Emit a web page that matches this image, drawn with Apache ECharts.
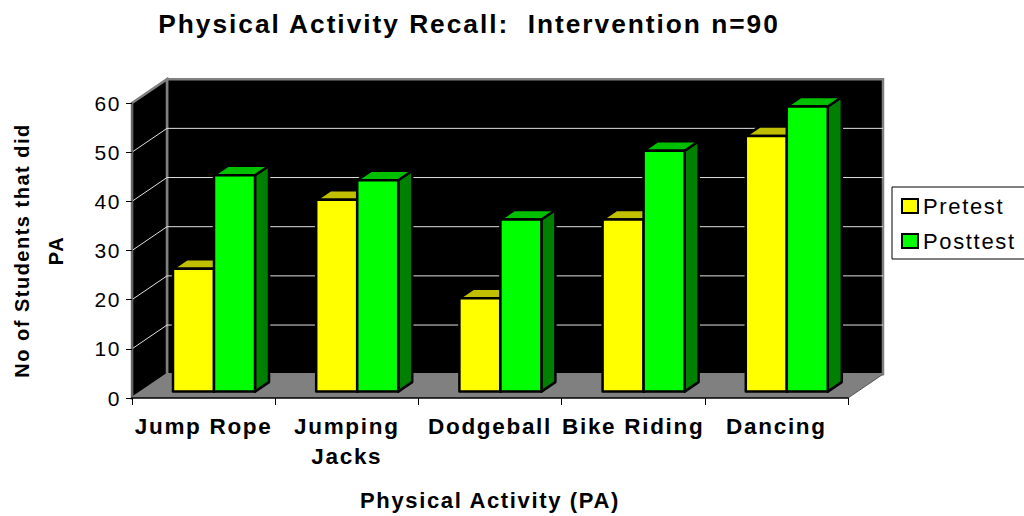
<!DOCTYPE html>
<html>
<head>
<meta charset="utf-8">
<title>Physical Activity Recall</title>
<script src="https://cdn.jsdelivr.net/npm/echarts@6/dist/echarts.min.js"></script>
<style>
  html, body { margin: 0; padding: 0; background: #fff; overflow: hidden; }
  #main { width: 1024px; height: 516px; }
  /* spread the letters like the original */
  #main svg text { letter-spacing: 0.075em; }
</style>
</head>
<body>
<div id="main"></div>
<script>
const categories = ['Jump Rope', 'Jumping\nJacks', 'Dodgeball', 'Bike Riding', 'Dancing']
const pretest = [25, 39, 19, 35, 52]
const posttest = [44, 43, 35, 49, 58]
const yTicks = [0, 10, 20, 30, 40, 50, 60]

const fontName = '"Liberation Sans", Arial, sans-serif'

// depth of the whole box, and of one bar
const wallDx = 35
const wallDy = -23.8
const barDx = 14
const barDy = -9.5
// bars stand a bit behind the front edge of the floor
const floorDx = 10.4
const floorDy = -6.4
const barWidth = 41

let myChart = echarts.init(document.getElementById('main'), null, { renderer: 'svg' })

// 墙和地板
function renderWalls (params, api) {
  const g = params.coordSys
  const x0 = g.x
  const x1 = g.x + g.width
  const top = g.y
  const bottom = g.y + g.height
  return {
    type: 'group',
    children: [
      {
        type: 'polygon',
        shape: { points: [[x0 + wallDx, top + wallDy], [x1 + wallDx, top + wallDy], [x1 + wallDx, bottom + wallDy], [x0 + wallDx, bottom + wallDy]] },
        style: { fill: '#000', stroke: '#808080', lineWidth: 2.5 }
      },
      {
        type: 'polygon',
        shape: { points: [[x0, top], [x0 + wallDx, top + wallDy], [x0 + wallDx, bottom + wallDy], [x0, bottom]] },
        style: { fill: '#000', stroke: '#808080', lineWidth: 2.5 }
      },
      {
        type: 'polygon',
        shape: { points: [[x0, bottom], [x1, bottom], [x1 + wallDx, bottom + wallDy], [x0 + wallDx, bottom + wallDy]] },
        style: { fill: '#808080' }
      },
      {
        type: 'line',
        shape: { x1: x1, y1: bottom, x2: x1 + wallDx, y2: bottom + wallDy },
        style: { stroke: '#555', lineWidth: 1 }
      }
    ]
  }
}

// 网格线
function renderGrid (params, api) {
  const g = params.coordSys
  const y = api.coord([api.value(0), api.value(1)])[1]
  return {
    type: 'polyline',
    shape: { points: [[g.x, y], [g.x + wallDx, y + wallDy], [g.x + g.width + wallDx, y + wallDy]] },
    style: { fill: 'none', stroke: '#e0e0e0', lineWidth: 1 }
  }
}

function makeBar (side, front, topColor, sideColor) {
  return function (params, api) {
    const p = api.coord([api.value(0), api.value(1)])
    const base = api.coord([api.value(0), 0])
    // side = -1 left of the band centre, 0 right of it
    const x = p[0] + floorDx + side * barWidth
    const yTop = p[1] + floorDy
    const yBase = base[1] + floorDy
    const line = { stroke: '#000', lineWidth: 2.5, lineJoin: 'round' }
    return {
      type: 'group',
      children: [
        {
          type: 'polygon',
          shape: { points: [[x + barWidth, yTop], [x + barWidth + barDx, yTop + barDy], [x + barWidth + barDx, yBase + barDy], [x + barWidth, yBase]] },
          style: Object.assign({ fill: sideColor }, line)
        },
        {
          type: 'polygon',
          shape: { points: [[x, yTop], [x + barDx, yTop + barDy], [x + barWidth + barDx, yTop + barDy], [x + barWidth, yTop]] },
          style: Object.assign({ fill: topColor }, line)
        },
        {
          type: 'rect',
          shape: { x: x, y: yTop, width: barWidth, height: yBase - yTop },
          style: Object.assign({ fill: front }, line)
        }
      ]
    }
  }
}

let option = {
  animation: false,
  backgroundColor: '#fff',
  title: {
    text: 'Physical Activity Recall:  Intervention n=90',
    left: 464,
    top: 6,
    textAlign: 'center',
    textStyle: { fontFamily: fontName, fontSize: 26.3, fontWeight: 'bold', color: '#000' }
  },
  legend: {
    left: 892,
    top: 187,
    orient: 'vertical',
    backgroundColor: '#fff',
    borderColor: '#000',
    borderWidth: 1,
    padding: [8, 40, 7, 9],
    itemGap: 13,
    itemWidth: 16,
    itemHeight: 14,
    selectedMode: false,
    textStyle: { fontFamily: fontName, fontSize: 22, color: '#000' },
    data: [
      { name: 'Pretest', icon: 'rect', itemStyle: { color: '#ffff00', borderColor: '#000', borderWidth: 2 } },
      { name: 'Posttest', icon: 'rect', itemStyle: { color: '#00ff00', borderColor: '#000', borderWidth: 2 } }
    ]
  },
  grid: { left: 132, top: 103, width: 716, height: 295, outerBoundsMode: 'none' },
  xAxis: {
    type: 'category',
    data: categories,
    z: 10,
    name: 'Physical Activity (PA)',
    nameLocation: 'middle',
    nameGap: 91,
    nameTextStyle: { fontFamily: fontName, fontSize: 22, fontWeight: 'bold', color: '#000' },
    axisLine: { lineStyle: { color: '#000', width: 1.5 } },
    axisTick: { show: true, length: 7, lineStyle: { color: '#000' } },
    axisLabel: { show: true, interval: 0, margin: 13.5, lineHeight: 30, fontFamily: fontName, fontSize: 22.5, fontWeight: 'bold', color: '#000' }
  },
  yAxis: {
    type: 'value',
    min: 0,
    max: 60,
    interval: 10,
    z: 10,
    name: 'No of Students that did\nPA',
    nameLocation: 'middle',
    nameGap: 59,
    nameRotate: 90,
    nameTextStyle: { fontFamily: fontName, fontSize: 20, fontWeight: 'bold', color: '#000', lineHeight: 34 },
    splitLine: { show: false },
    axisLine: { show: true, lineStyle: { color: '#666', width: 2 } },
    axisTick: { show: true, length: 6, lineStyle: { color: '#000' } },
    axisLabel: { margin: 11, fontFamily: fontName, fontSize: 21, color: '#000' }
  },
  series: [
    {
      name: 'walls',
      type: 'custom',
      z: 1,
      silent: true,
      renderItem: renderWalls,
      encode: { x: 0, y: 1 },
      data: [[0, 0]]
    },
    {
      name: 'grid',
      type: 'custom',
      z: 2,
      silent: true,
      renderItem: renderGrid,
      encode: { x: 0, y: 1 },
      data: yTicks.slice(1, -1).map(v => [0, v])
    },
    {
      name: 'Pretest',
      type: 'custom',
      z: 3,
      renderItem: makeBar(-1, '#ffff00', '#c0c000', '#808000'),
      encode: { x: 0, y: 1 },
      data: pretest.map((v, i) => [i, v])
    },
    {
      name: 'Posttest',
      type: 'custom',
      z: 4,
      renderItem: makeBar(0, '#00ff00', '#00c000', '#008000'),
      encode: { x: 0, y: 1 },
      data: posttest.map((v, i) => [i, v])
    }
  ]
}
myChart.setOption(option)
</script>
</body>
</html>
